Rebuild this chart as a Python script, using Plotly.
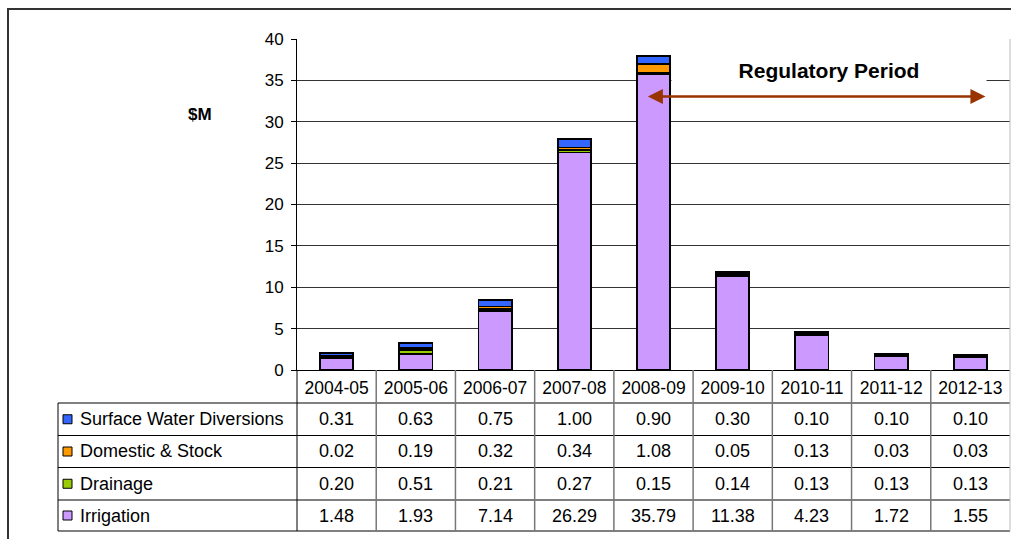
import plotly.graph_objects as go

# ---------------- data ----------------
categories = ["2004-05", "2005-06", "2006-07", "2007-08", "2008-09",
              "2009-10", "2010-11", "2011-12", "2012-13"]
surface_water = [0.31, 0.63, 0.75, 1.00, 0.90, 0.30, 0.10, 0.10, 0.10]
domestic_stock = [0.02, 0.19, 0.32, 0.34, 1.08, 0.05, 0.13, 0.03, 0.03]
drainage = [0.20, 0.51, 0.21, 0.27, 0.15, 0.14, 0.13, 0.13, 0.13]
irrigation = [1.48, 1.93, 7.14, 26.29, 35.79, 11.38, 4.23, 1.72, 1.55]
series_names = ["Surface Water Diversions", "Domestic & Stock", "Drainage", "Irrigation"]
y_ticks = [0, 5, 10, 15, 20, 25, 30, 35, 40]

# ---------------- styles / layout geometry ----------------
colors = {"Surface Water Diversions": "#3366FF", "Domestic & Stock": "#FF9900",
          "Drainage": "#99CC00", "Irrigation": "#CC99FF"}
FONT = "Liberation Sans, Arial, sans-serif"
FW, FH = 1011, 539
ML, MR, MT, MB = 297, 1, 39, 169
PW = FW - ML - MR
PH = FH - MT - MB


def px_x(px):
    return (px - ML) / PW


def px_y(py):
    return (FH - MB - py) / PH


values = {"Surface Water Diversions": surface_water, "Domestic & Stock": domestic_stock,
          "Drainage": drainage, "Irrigation": irrigation}

fig = go.Figure()
for name in ["Irrigation", "Drainage", "Domestic & Stock", "Surface Water Diversions"]:
    fig.add_trace(go.Bar(x=categories, y=values[name], name=name,
                         marker=dict(color=colors[name], line=dict(color="black", width=1.8)),
                         showlegend=False))

shapes = []
annotations = []

# outer frame
shapes.append(dict(type="rect", xref="paper", yref="paper",
                   x0=px_x(8), x1=px_x(1014), y0=px_y(540), y1=px_y(9),
                   line=dict(color="#333333", width=2)))
# plot right edge
shapes.append(dict(type="line", xref="paper", yref="paper", x0=1, x1=1, y0=0, y1=1,
                   line=dict(color="#BBBBBB", width=1)))

# table geometry
row_edges = [403, 435.5, 467.5, 500, 531]
n = len(categories)
for yy in row_edges:
    shapes.append(dict(type="line", xref="paper", yref="paper",
                       x0=px_x(58), x1=1, y0=px_y(yy), y1=px_y(yy),
                       line=dict(color="black", width=1)))
for k in range(n + 1):
    shapes.append(dict(type="line", xref="paper", yref="paper",
                       x0=k / n, x1=k / n, y0=0, y1=px_y(row_edges[-1]),
                       line=dict(color="#777777" if 0 < k < n else ("black" if k == 0 else "#BBBBBB"),
                                 width=1.5 if 0 < k < n else 1)))
shapes.append(dict(type="line", xref="paper", yref="paper",
                   x0=px_x(58), x1=px_x(58), y0=px_y(row_edges[0]), y1=px_y(row_edges[-1]),
                   line=dict(color="black", width=1)))

for r, name in enumerate(series_names):
    yc = (row_edges[r] + row_edges[r + 1]) / 2
    shapes.append(dict(type="rect", xref="paper", yref="paper",
                       x0=px_x(63), x1=px_x(72), y0=px_y(yc + 4.5), y1=px_y(yc - 4.5),
                       fillcolor=colors[name], line=dict(color="black", width=1)))
    annotations.append(dict(xref="paper", yref="paper", x=px_x(78), y=px_y(yc),
                            xanchor="left", yanchor="middle", text=name, showarrow=False,
                            font=dict(family=FONT, size=18, color="black")))
    for i, cat in enumerate(categories):
        annotations.append(dict(xref="x", yref="paper", x=cat, y=px_y(yc),
                                xanchor="center", yanchor="middle",
                                text=f"{values[name][i]:.2f}", showarrow=False,
                                font=dict(family=FONT, size=18, color="black")))

# y axis title
annotations.append(dict(xref="paper", yref="paper", x=px_x(200), y=px_y(115),
                        xanchor="center", yanchor="middle", text="<b>$M</b>", showarrow=False,
                        font=dict(family=FONT, size=17, color="black")))

# Regulatory Period label with white box
annotations.append(dict(xref="paper", yref="paper", x=px_x(829), y=px_y(70),
                        xanchor="center", yanchor="middle", text="<b>Regulatory Period</b>",
                        showarrow=False, bgcolor="white", width=312, height=36,
                        font=dict(family=FONT, size=21, color="black")))
# double headed arrow
annotations.append(dict(xref="x", yref="y", axref="x", ayref="y",
                        x=8.19, y=33.05, ax=3.91, ay=33.05, text="",
                        showarrow=True, arrowhead=2, startarrowhead=2, arrowside="end+start",
                        arrowsize=1.2, startarrowsize=1.2, arrowwidth=2.5, arrowcolor="#993300",
                        standoff=0, startstandoff=0))

fig.update_layout(
    width=FW, height=FH,
    margin=dict(l=ML, r=MR, t=MT, b=MB, pad=0),
    paper_bgcolor="white", plot_bgcolor="white",
    barmode="stack", bargap=0.58,
    shapes=shapes, annotations=annotations,
    font=dict(family=FONT, size=17, color="black"),
    xaxis=dict(type="category", showline=True, linecolor="black", linewidth=1,
               showgrid=False, ticks="", tickfont=dict(family=FONT, size=17.5, color="black"),
               ticklabelstandoff=2),
    yaxis=dict(range=[0, 40], tickvals=y_ticks, showline=True, linecolor="black", linewidth=1,
               showgrid=True, gridcolor="#333333", gridwidth=1, zeroline=False,
               ticks="outside", ticklen=5, tickcolor="black",
               tickfont=dict(family=FONT, size=17, color="black"), ticklabelstandoff=4),
)

fig.write_html("out.html")
